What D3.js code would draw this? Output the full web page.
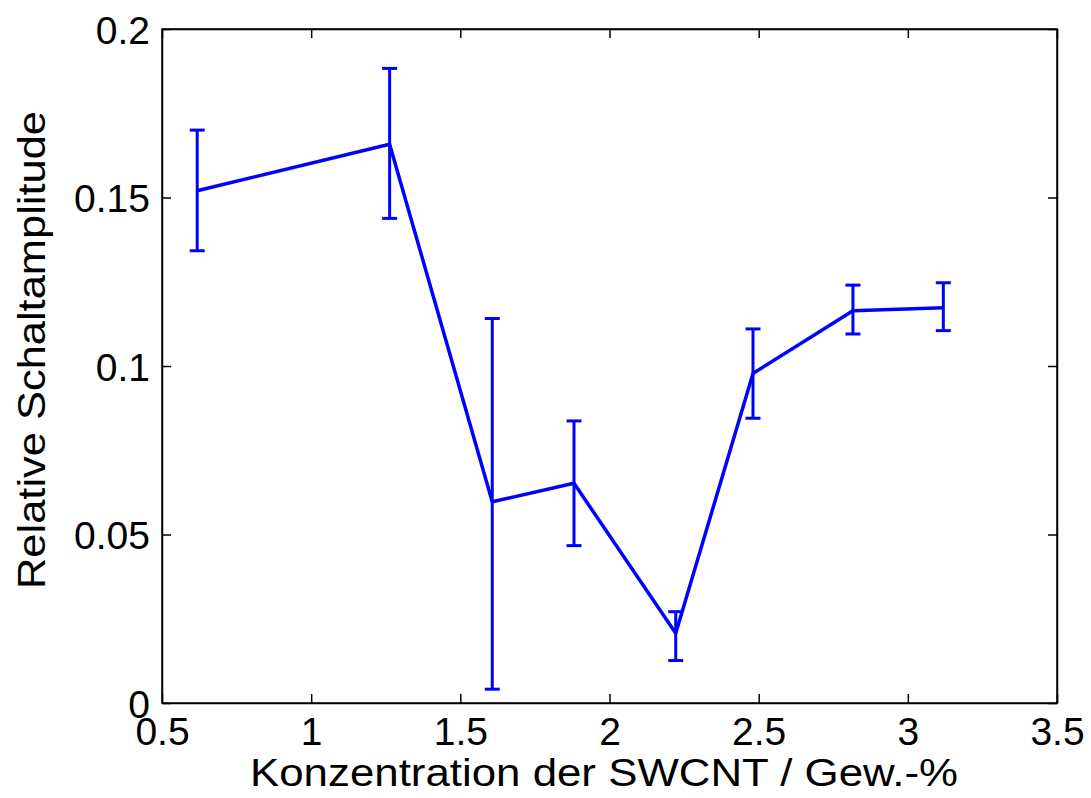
<!DOCTYPE html>
<html>
<head>
<meta charset="utf-8">
<script src="https://cdn.jsdelivr.net/npm/d3@7"></script>
<style>
  html, body { margin: 0; padding: 0; background: #fff; }
  text { font-family: "Liberation Sans", Arial, Helvetica, sans-serif; fill: #000; }
</style>
</head>
<body>
<svg id="chart" width="1091" height="798"></svg>
<script>
// Data
const concentration = [0.618, 1.263, 1.607, 1.881, 2.222, 2.481, 2.816, 3.119];
const amplitude     = [0.152, 0.1658, 0.0597, 0.0652, 0.0207, 0.0978, 0.1164, 0.1173];
const errLower      = [0.1342, 0.1438, 0.0041, 0.0467, 0.0126, 0.0845, 0.1095, 0.1105];
const errUpper      = [0.170, 0.1883, 0.1141, 0.0837, 0.0271, 0.111, 0.124, 0.1247];
const xTicks = [0.5, 1, 1.5, 2, 2.5, 3, 3.5];
const yTicks = [0, 0.05, 0.1, 0.15, 0.2];
const xLabel = "Konzentration der SWCNT / Gew.-%";
const yLabel = "Relative Schaltamplitude";

const svg = d3.select("#chart");
const margin = { left: 162, top: 29, right: 1057, bottom: 703 };
const x = d3.scaleLinear().domain([0.5, 3.5]).range([margin.left, margin.right]);
const y = d3.scaleLinear().domain([0, 0.2]).range([margin.bottom, margin.top]);

const fmt = d => String(+d.toFixed(3));

// Box
svg.append("rect")
  .attr("x", margin.left).attr("y", margin.top)
  .attr("width", margin.right - margin.left).attr("height", margin.bottom - margin.top)
  .attr("fill", "none").attr("stroke", "#000").attr("stroke-width", 1.5);

// Axes
const xAxis = d3.axisBottom(x).tickValues(xTicks).tickFormat(fmt).tickSizeInner(-9).tickSizeOuter(0).tickPadding(14);
const gx = svg.append("g").attr("transform", `translate(0,${margin.bottom})`).call(xAxis);
const gxTop = svg.append("g").attr("transform", `translate(0,${margin.top})`)
  .call(d3.axisTop(x).tickValues(xTicks).tickSizeInner(-9).tickSizeOuter(0).tickFormat(""));
const yAxis = d3.axisLeft(y).tickValues(yTicks).tickFormat(fmt).tickSizeInner(-9).tickSizeOuter(0).tickPadding(12);
const gy = svg.append("g").attr("transform", `translate(${margin.left},0)`).call(yAxis);
const gyR = svg.append("g").attr("transform", `translate(${margin.right},0)`)
  .call(d3.axisRight(y).tickValues(yTicks).tickSizeInner(-9).tickSizeOuter(0).tickFormat(""));

[gx, gxTop, gy, gyR].forEach(g => {
  g.select(".domain").attr("stroke", "#000").attr("stroke-width", 1.5);
  g.selectAll(".tick line").attr("stroke", "#000").attr("stroke-width", 1.5);
  g.selectAll("text").attr("font-size", 39).attr("fill", "#000")
    .style("font-family", '"Liberation Sans", Arial, sans-serif');
});
gx.selectAll("text").attr("dy", "0.71em");
gy.selectAll("text").attr("dy", "0.36em");

// Line
const line = d3.line().x((d, i) => x(concentration[i])).y(d => y(d));
svg.append("path").datum(amplitude)
  .attr("d", line).attr("fill", "none").attr("stroke", "#0000ff")
  .attr("stroke-width", 3.5).attr("stroke-linejoin", "round");

// Error bars
const capHalf = 7.5;
const eb = svg.append("g").attr("stroke", "#0000ff").attr("stroke-width", 3).attr("fill", "none");
concentration.forEach((c, i) => {
  const cx = x(c);
  eb.append("line").attr("x1", cx).attr("x2", cx).attr("y1", y(errLower[i])).attr("y2", y(errUpper[i]));
  eb.append("line").attr("x1", cx - capHalf).attr("x2", cx + capHalf).attr("y1", y(errLower[i])).attr("y2", y(errLower[i]));
  eb.append("line").attr("x1", cx - capHalf).attr("x2", cx + capHalf).attr("y1", y(errUpper[i])).attr("y2", y(errUpper[i]));
});

// Axis labels
svg.append("text").attr("x", 604).attr("y", 786)
  .attr("text-anchor", "middle").attr("font-size", 38)
  .attr("textLength", 708).attr("lengthAdjust", "spacingAndGlyphs")
  .text(xLabel);
svg.append("text").attr("transform", `translate(45,${(margin.top + margin.bottom) / 2 - 16}) rotate(-90)`)
  .attr("text-anchor", "middle").attr("font-size", 39)
  .attr("textLength", 478).attr("lengthAdjust", "spacingAndGlyphs")
  .text(yLabel);
</script>
</body>
</html>
